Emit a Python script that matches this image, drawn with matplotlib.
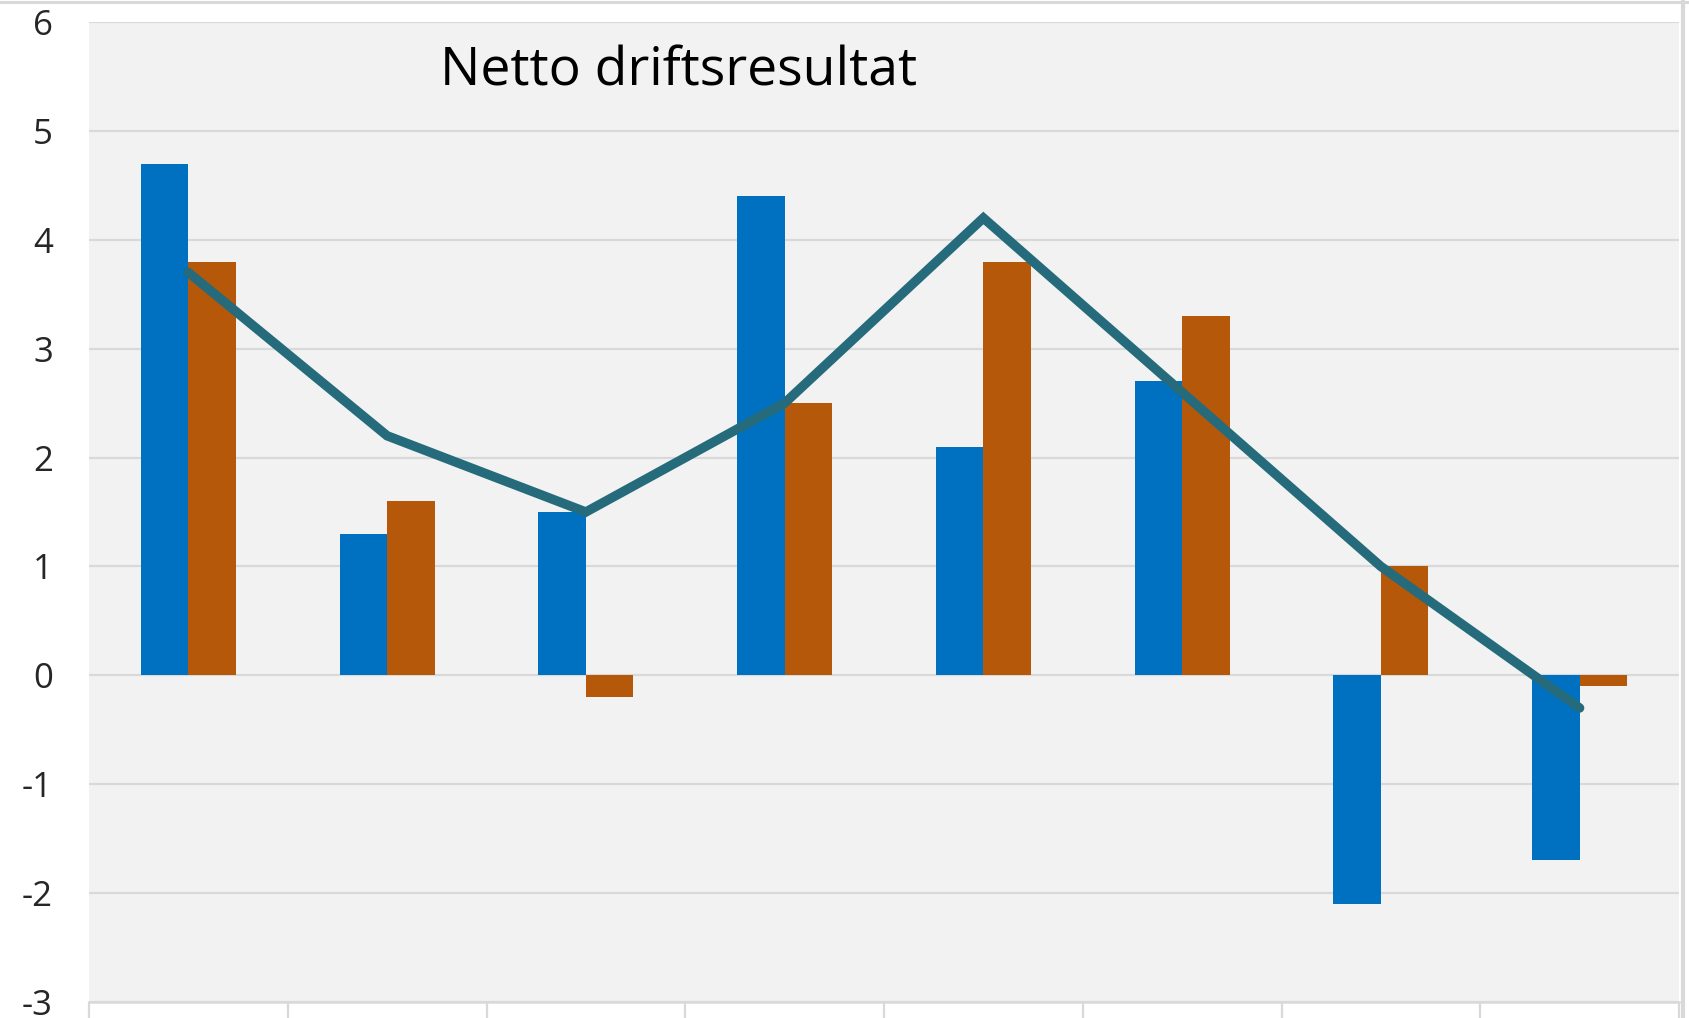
import matplotlib
matplotlib.use("Agg")
import matplotlib.pyplot as plt
import numpy as np
from matplotlib.lines import Line2D

# Data
categories = ["1", "2", "3", "4", "5", "6", "7", "8"]
series_blue = [4.7, 1.3, 1.5, 4.4, 2.1, 2.7, -2.1, -1.7]
series_orange = [3.8, 1.6, -0.2, 2.5, 3.8, 3.3, 1.0, -0.1]
series_line = [3.7, 2.2, 1.5, 2.5, 4.2, 2.6, 1.0, -0.3]
y_ticks = [-3, -2, -1, 0, 1, 2, 3, 4, 5, 6]
title = "Netto driftsresultat"

W, H, DPI = 1689, 1018, 100
fig = plt.figure(figsize=(W / DPI, H / DPI), dpi=DPI)
fig.patch.set_facecolor("white")

left, right, top, bottom = 89, 1679, 22, 1002
ax = fig.add_axes([left / W, 1 - bottom / H, (right - left) / W, (bottom - top) / H])
ax.set_facecolor("#f2f2f2")

n = len(categories)
x = np.arange(n)
w = 0.239
ax.bar(x - w / 2, series_blue, width=w, color="#0070C0", zorder=3)
ax.bar(x + w / 2, series_orange, width=w, color="#B5580A", zorder=3)
ax.plot(x, series_line, color="#256B7B", linewidth=6.8, solid_capstyle="round",
        solid_joinstyle="miter", zorder=4)

ax.set_xlim(-0.5, n - 0.5)
ax.set_ylim(-3, 6)
ax.set_yticks(y_ticks)
ax.set_yticklabels([str(v) for v in y_ticks], fontsize=25, family="Open Sans", color="#262626")
ax.yaxis.grid(True, color="#d9d9d9", linewidth=1.6, zorder=0)
ax.set_axisbelow(True)
ax.tick_params(axis="y", length=0, pad=26)

ax.set_xticks(np.arange(-0.5, n, 1.0))
ax.set_xticklabels([])
ax.tick_params(axis="x", length=14, width=1.6, color="#d9d9d9", direction="out")

for s in ["left", "right", "top"]:
    ax.spines[s].set_visible(False)
ax.spines["bottom"].set_color("#d9d9d9")
ax.spines["bottom"].set_linewidth(1.8)

fig.text(679 / W, 1 - 86 / H, title, ha="center", va="baseline", fontsize=38.5,
         family="Open Sans", color="#000000")

# chart border (top and right edges)
fig.add_artist(Line2D([0, 1], [1 - 1.5 / H, 1 - 1.5 / H], transform=fig.transFigure,
                      color="#d9d9d9", linewidth=2.2))
fig.add_artist(Line2D([1 - 6 / W, 1 - 6 / W], [0, 1], transform=fig.transFigure,
                      color="#d9d9d9", linewidth=3.0))

fig.savefig("out.png", dpi=DPI)
